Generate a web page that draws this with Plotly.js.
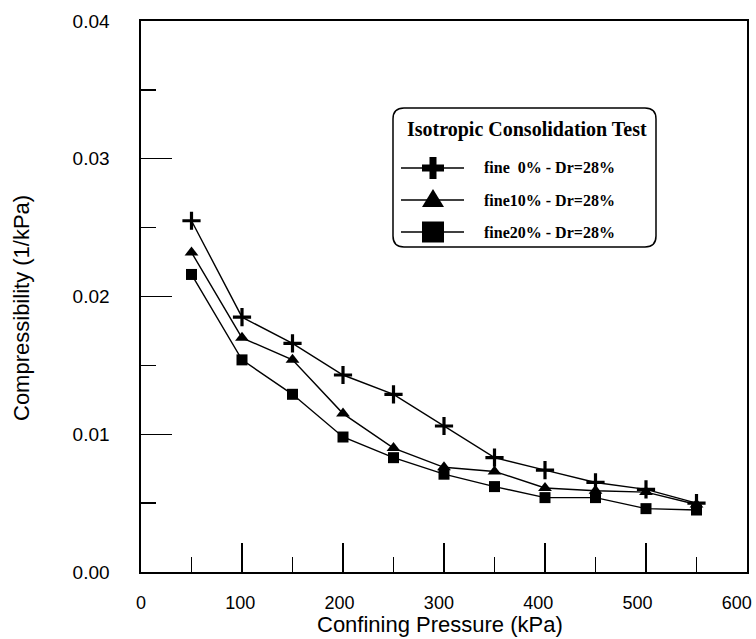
<!DOCTYPE html>
<html>
<head>
<meta charset="utf-8">
<script src="https://cdn.plot.ly/plotly-3.0.1.min.js"></script>
<style>html,body{margin:0;padding:0;background:#fff;}#chart{width:756px;height:639px;}</style>
</head>
<body>
<div id="chart"></div>
<script>
const pressure = [50, 100, 150, 200, 250, 300, 350, 400, 450, 500, 550];
const fine0  = [0.0255, 0.0185, 0.0166, 0.0143, 0.0129, 0.0106, 0.0083, 0.0074, 0.0065, 0.0060, 0.0050];
const fine10 = [0.0232, 0.0170, 0.0154, 0.0115, 0.0090, 0.0076, 0.0073, 0.0061, 0.0059, 0.0058, 0.0049];
const fine20 = [0.0216, 0.0154, 0.0129, 0.0098, 0.0083, 0.0071, 0.0062, 0.0054, 0.0054, 0.0046, 0.0045];
const seriesNames = ["fine  0% - Dr=28%", "fine10% - Dr=28%", "fine20% - Dr=28%"];
const xTickVals = [0, 100, 200, 300, 400, 500, 600];
const xMinorVals = [50, 150, 250, 350, 450, 550];
const yTickVals = [0, 0.01, 0.02, 0.03, 0.04];
const yMinorVals = [0.005, 0.015, 0.025, 0.035];
const legendTitle = "Isotropic Consolidation Test";
const xTitle = "Confining Pressure (kPa)";
const yTitle = "Compressibility (1/kPa)";

const W = 756, H = 639;
const L = 141, R = 747, T = 21, B = 572;
const px = x => (x - L) / (R - L);
const py = y => (B - y) / (B - T);
const P = (x, y) => px(x).toFixed(5) + "," + py(y).toFixed(5);

const traces = [
  {x: pressure, y: fine0, name: seriesNames[0], mode: "lines+markers",
   line: {color: "#000", width: 1.4},
   marker: {symbol: "cross-thin", size: 13, color: "#000", line: {color: "#000", width: 3.2}}},
  {x: pressure, y: fine10, name: seriesNames[1], mode: "lines+markers",
   line: {color: "#000", width: 1.4},
   marker: {symbol: "triangle-up", size: 12, color: "#000"}},
  {x: pressure, y: fine20, name: seriesNames[2], mode: "lines+markers",
   line: {color: "#000", width: 1.4},
   marker: {symbol: "square", size: 11, color: "#000"}},
  // invisible carrier so the label-only x axis is drawn
  {x: xTickVals, y: xTickVals.map(function () { return null; }), xaxis: "x2", yaxis: "y",
   mode: "markers", showlegend: false, hoverinfo: "skip", marker: {opacity: 0}}
];

function roundRect(x0, y0, x1, y1, r) {
  return "M" + P(x0 + r, y0) + " L" + P(x1 - r, y0) + " Q" + P(x1, y0) + " " + P(x1, y0 + r) +
    " L" + P(x1, y1 - r) + " Q" + P(x1, y1) + " " + P(x1 - r, y1) +
    " L" + P(x0 + r, y1) + " Q" + P(x0, y1) + " " + P(x0, y1 - r) +
    " L" + P(x0, y0 + r) + " Q" + P(x0, y0) + " " + P(x0 + r, y0) + " Z";
}
const shapes = [];
shapes.push({type: "path", xref: "paper", yref: "paper", path: roundRect(393, 108, 656, 247, 11),
  line: {color: "#000", width: 1.5}, fillcolor: "rgba(0,0,0,0)"});
const rows = [168, 200, 232];
const sx0 = 401, sx1 = 464, mx = 433;
rows.forEach(function (ry) {
  shapes.push({type: "line", xref: "paper", yref: "paper", x0: px(sx0), x1: px(sx1), y0: py(ry), y1: py(ry),
    line: {color: "#000", width: 1.4}});
});
(function () {
  const c = rows[0], a = 11, t = 3.5;
  const path = "M" + P(mx - t, c - a) + " L" + P(mx + t, c - a) + " L" + P(mx + t, c - t) + " L" + P(mx + a, c - t) +
    " L" + P(mx + a, c + t) + " L" + P(mx + t, c + t) + " L" + P(mx + t, c + a) + " L" + P(mx - t, c + a) +
    " L" + P(mx - t, c + t) + " L" + P(mx - a, c + t) + " L" + P(mx - a, c - t) + " L" + P(mx - t, c - t) + " Z";
  shapes.push({type: "path", xref: "paper", yref: "paper", path: path, fillcolor: "#000", line: {width: 0}});
})();
(function () {
  const c = rows[1];
  const path = "M" + P(mx, c - 11) + " L" + P(mx + 11, c + 7) + " L" + P(mx - 11, c + 7) + " Z";
  shapes.push({type: "path", xref: "paper", yref: "paper", path: path, fillcolor: "#000", line: {width: 0}});
})();
(function () {
  const c = rows[2];
  shapes.push({type: "rect", xref: "paper", yref: "paper", x0: px(mx - 11), x1: px(mx + 11),
    y0: py(c - 10.5), y1: py(c + 10.5), fillcolor: "#000", line: {width: 0}});
})();

const serif = "Liberation Serif, Times New Roman, serif";
const sans = "Liberation Sans, Arial, sans-serif";
const annotations = [];
annotations.push({xref: "paper", yref: "paper", x: px(405), y: py(129), xanchor: "left", yanchor: "middle",
  text: "<b>" + legendTitle + "</b>", showarrow: false, font: {family: serif, size: 20, color: "#000"}});
rows.forEach(function (ry, i) {
  annotations.push({xref: "paper", yref: "paper", x: px(482), y: py(ry), xanchor: "left", yanchor: "middle",
    text: "<b>" + seriesNames[i].replace(/  /g, "&nbsp;&nbsp;") + "</b>", showarrow: false,
    font: {family: serif, size: 16, color: "#000"}});
});
annotations.push({xref: "paper", yref: "paper", x: px(440), y: py(639), xanchor: "center", yanchor: "bottom",
  text: xTitle, showarrow: false, font: {family: sans, size: 22, color: "#000"}});
annotations.push({xref: "paper", yref: "paper", x: px(22), y: py(308), xanchor: "center", yanchor: "middle",
  text: yTitle, textangle: -90, showarrow: false, font: {family: sans, size: 22, color: "#000"}});

const layout = {
  width: W, height: H,
  margin: {l: L, r: W - R, t: T, b: H - B, pad: 0},
  paper_bgcolor: "#fff", plot_bgcolor: "#fff",
  showlegend: false,
  font: {family: sans, size: 19, color: "#000"},
  xaxis: {range: [0, 600], tickvals: xTickVals, ticks: "inside", ticklen: 29, tickwidth: 1.3,
    tickcolor: "#000", showline: true, linecolor: "#000", linewidth: 1.6, mirror: true, showgrid: false, zeroline: false,
    showticklabels: false,
    minor: {tickvals: xMinorVals, ticks: "inside", ticklen: 15, tickwidth: 1.3, tickcolor: "#000", showgrid: false}},
  xaxis2: {overlaying: "x", anchor: "y", side: "bottom", range: [0, 610.3], tickvals: xTickVals,
    ticks: "", showline: false, showgrid: false, zeroline: false, ticklabelstandoff: 18,
    ticklabeloverflow: "allow", tickfont: {size: 18}},
  yaxis: {range: [0, 0.04], tickvals: yTickVals, tickformat: ".2f", ticks: "inside", ticklen: 31, tickwidth: 1.3,
    tickcolor: "#000", showline: true, linecolor: "#000", linewidth: 1.6, mirror: true, showgrid: false, zeroline: false,
    ticklabelstandoff: 26, tickfont: {size: 19},
    minor: {tickvals: yMinorVals, ticks: "inside", ticklen: 15, tickwidth: 1.3, tickcolor: "#000", showgrid: false}},
  shapes: shapes,
  annotations: annotations
};

Plotly.newPlot("chart", traces, layout, {displayModeBar: false, staticPlot: true});
</script>
</body>
</html>
